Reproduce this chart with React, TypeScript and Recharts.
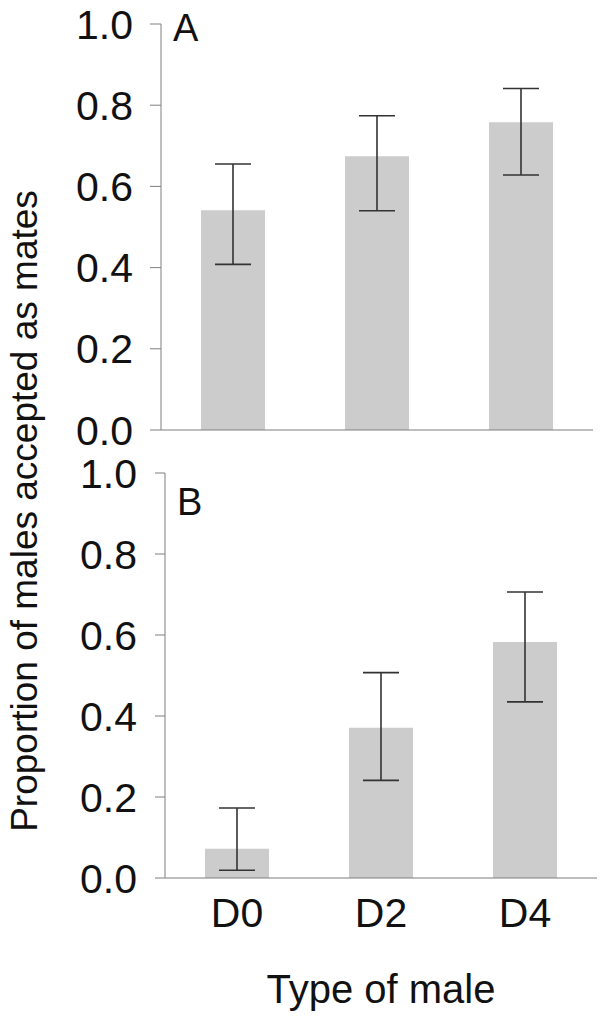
import { Bar, BarChart, ErrorBar, XAxis, YAxis } from "recharts";

// values (proportion + 95% CI bounds)
const categories = ["D0", "D2", "D4"];
const meanA = [0.541, 0.674, 0.758];
const lowerA = [0.408, 0.54, 0.628];
const upperA = [0.655, 0.774, 0.841];
const meanB = [0.072, 0.371, 0.583];
const lowerB = [0.019, 0.241, 0.435];
const upperB = [0.173, 0.507, 0.706];
const yTicks = [0, 0.2, 0.4, 0.6, 0.8, 1.0];

const FONT = "'Liberation Sans', Arial, sans-serif";
const AXIS = "#7f7f7f";
const BAR = "#cccccc";
const INK = "#111111";

const toRows = (mean: number[], lower: number[], upper: number[]) =>
  categories.map((c, i) => ({
    name: c,
    value: mean[i],
    err: [mean[i] - lower[i], upper[i] - mean[i]],
  }));

const dataA = toRows(meanA, lowerA, upperA);
const dataB = toRows(meanB, lowerB, upperB);

type PanelProps = {
  data: ReturnType<typeof toRows>;
  top: number;
  height: number;
  margin: { top: number; right: number; bottom: number; left: number };
  yWidth: number;
  tickSize: number;
  tickMargin: number;
  showX: boolean;
};

function Panel({ data, top, height, margin, yWidth, tickSize, tickMargin, showX }: PanelProps) {
  return (
    <div style={{ position: "absolute", left: 0, top }}>
      <BarChart width={600} height={height} data={data} margin={margin}>
        <XAxis
          dataKey="name"
          stroke={AXIS}
          tickLine={false}
          tickSize={0}
          tickMargin={20}
          tick={showX ? { fill: INK, fontSize: 41, fontFamily: FONT } : false}
          height={showX ? 149 : 2}
          label={
            showX
              ? {
                  value: "Type of male",
                  position: "insideBottom",
                  offset: 24,
                  fill: INK,
                  fontSize: 40,
                  fontFamily: FONT,
                }
              : undefined
          }
        />
        <YAxis
          domain={[0, 1]}
          ticks={yTicks}
          interval={0}
          width={yWidth}
          stroke={AXIS}
          tickSize={tickSize}
          tickMargin={tickMargin}
          tickFormatter={(v: number) => v.toFixed(1)}
          tick={{ fill: INK, fontSize: 41, fontFamily: FONT }}
        />
        <Bar dataKey="value" fill={BAR} barSize={64} isAnimationActive={false}>
          <ErrorBar
            dataKey="err"
            width={18}
            stroke="#333333"
            strokeWidth={1.6}
            isAnimationActive={false}
          />
        </Bar>
      </BarChart>
    </div>
  );
}

export default function App() {
  return (
    <div
      style={{
        position: "absolute",
        left: 0,
        top: 0,
        width: 600,
        height: 1027,
        background: "#ffffff",
        fontFamily: FONT,
      }}
    >
      <Panel
        data={dataA}
        top={0}
        height={470}
        margin={{ top: 24, right: 7, bottom: 38, left: 0 }}
        yWidth={161}
        tickSize={11}
        tickMargin={17}
        showX={false}
      />
      <Panel
        data={dataB}
        top={440}
        height={587}
        margin={{ top: 33, right: 3, bottom: 0, left: 0 }}
        yWidth={165}
        tickSize={10}
        tickMargin={18}
        showX={true}
      />
      <svg
        width={600}
        height={1027}
        style={{ position: "absolute", left: 0, top: 0, pointerEvents: "none" }}
      >
        <text x={173} y={41} fontSize={38} fontFamily={FONT} fill={INK}>
          A
        </text>
        <text x={177} y={515} fontSize={38} fontFamily={FONT} fill={INK}>
          B
        </text>
        <text
          transform="translate(37,511) rotate(-90)"
          textAnchor="middle"
          fontSize={37}
          fontFamily={FONT}
          fill={INK}
        >
          Proportion of males accepted as mates
        </text>
      </svg>
    </div>
  );
}
